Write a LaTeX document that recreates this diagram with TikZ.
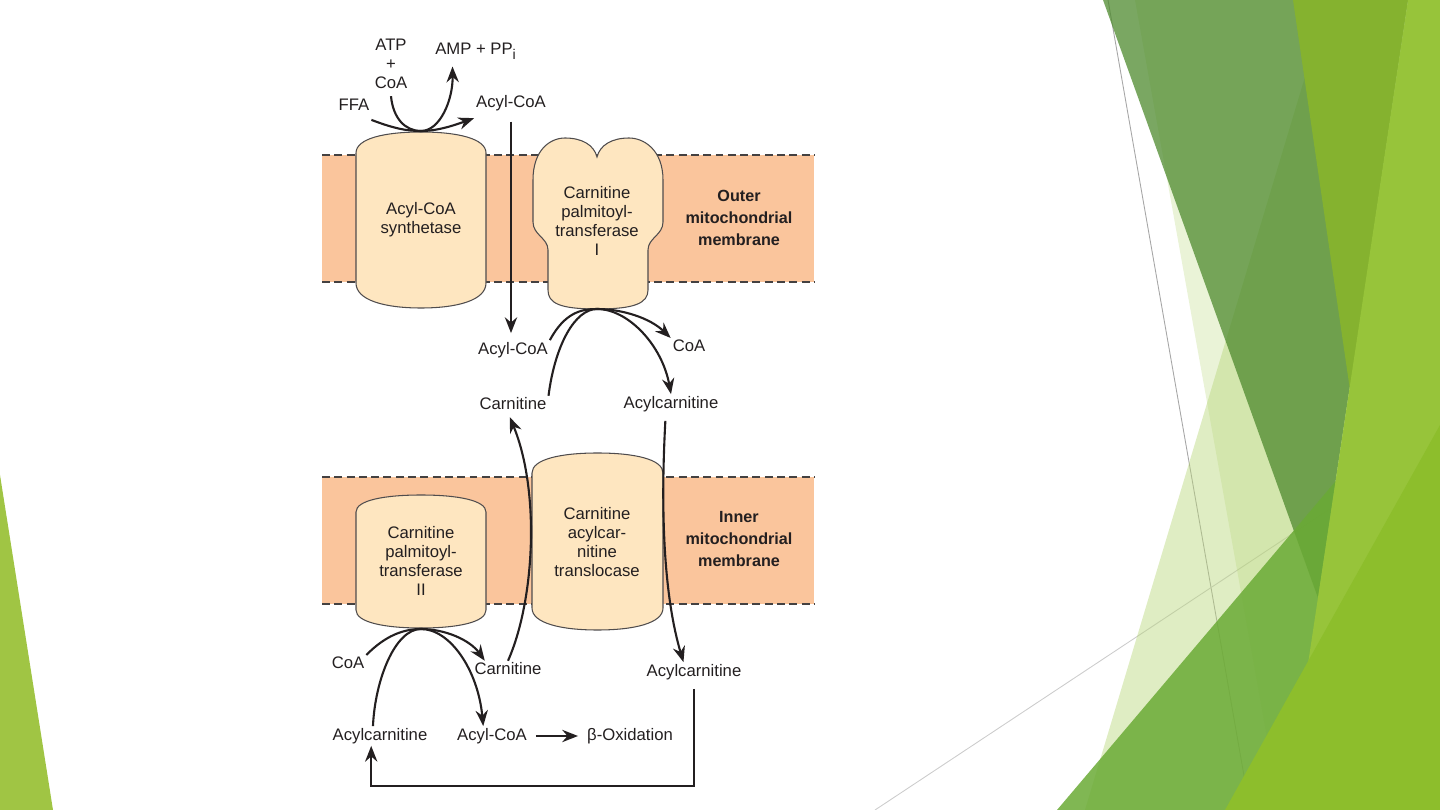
\documentclass[tikz,border=0pt]{standalone}
\usepackage{fontspec}
\setmainfont{Liberation Sans}
\usetikzlibrary{arrows.meta}

\definecolor{membr}{HTML}{FAC59C}
\definecolor{prot}{HTML}{FEE6C0}
\definecolor{ink}{HTML}{231F20}
\definecolor{leafA}{HTML}{A0C544}
\definecolor{paleG}{HTML}{B8D67A}
\definecolor{darkG}{HTML}{4E8A2E}
\definecolor{oliveG}{HTML}{85B22F}
\definecolor{midG}{HTML}{6AAA35}
\definecolor{lightG}{HTML}{97C43A}
\definecolor{brightG}{HTML}{8DBE2C}

\tikzset{
  lbl/.style={font=\fontsize{9.5}{10.8}\selectfont, text=ink, inner sep=1pt, align=center},
  protlbl/.style={lbl, font=\fontsize{9.5}{10.9}\selectfont},
  memlbl/.style={font=\fontsize{9.2}{12.4}\selectfont\bfseries, text=ink, align=center},
  rxn/.style={line width=1.2pt, draw=ink},
  arr/.style={rxn, -{Stealth[length=9pt,width=7pt,inset=3pt]}},
  protein/.style={fill=prot, draw=ink!80, line width=0.6pt},
  dashln/.style={draw=ink!85, line width=0.6pt, dash pattern=on 4.5pt off 2.5pt},
  slideln/.style={line width=0.5pt},
}

% drum shaped protein: centre x, half width, dome top, side top, side bottom, base
\newcommand{\drum}[6]{%
  \filldraw[protein] ({#1-#2},#5) -- ({#1-#2},#4)
    .. controls ({#1-#2},{#4-0.7*(#4-#3)}) and ({#1-0.55*#2},#3) .. (#1,#3)
    .. controls ({#1+0.55*#2},#3) and ({#1+#2},{#4-0.7*(#4-#3)}) .. ({#1+#2},#4)
    -- ({#1+#2},#5)
    .. controls ({#1+#2},{#5+0.7*(#6-#5)}) and ({#1+0.55*#2},#6) .. (#1,#6)
    .. controls ({#1-0.55*#2},#6) and ({#1-#2},{#5+0.7*(#6-#5)}) .. ({#1-#2},#5) -- cycle;}

\begin{document}
\begin{tikzpicture}[x=0.02cm,y=-0.02cm]
\useasboundingbox (0,0) rectangle (1440,810);

% slide decoration
\fill[leafA] (0,475) -- (0,810) -- (53,810) -- cycle;
\draw[slideln,draw=black!35] (1108,0) -- (1250,810);
\draw[slideln,draw=black!20] (875,810) -- (1440,436);
\fill[paleG,opacity=0.3] (1135,0) -- (1280,810) -- (1440,810) -- (1440,0) -- cycle;
\fill[paleG,opacity=0.45] (1328,0) -- (1085,810) -- (1440,810) -- (1440,0) -- cycle;
\fill[darkG,opacity=0.75] (1103,0) -- (1408,0) -- (1318,598) -- cycle;
\fill[oliveG] (1293,0) -- (1408,0) -- (1350,390) -- cycle;
\fill[midG,opacity=0.85] (1057,810) -- (1440,358) -- (1440,810) -- cycle;
\fill[lightG] (1408,0) -- (1440,0) -- (1440,810) -- (1286,810) -- cycle;
\fill[brightG] (1225,810) -- (1440,425) -- (1440,810) -- cycle;

% membranes
\fill[membr] (322,155) rectangle (814,282);
\fill[membr] (322,477) rectangle (814,604);
\foreach \y in {155,282,477,604}
  \draw[dashln] (322,\y) -- (814,\y);

% proteins
\drum{421}{65}{132}{153}{283}{308}
\drum{421}{65}{495}{512}{610}{628}
\drum{597.5}{65.5}{453}{473}{608}{630}
\filldraw[protein] (533,180) .. controls (533,150) and (550,138) .. (565,138)
  .. controls (582,138) and (594,145) .. (597,157)
  .. controls (600,145) and (612,138) .. (629,138)
  .. controls (644,138) and (663,150) .. (663,180) -- (663,222)
  .. controls (663,235) and (648,238) .. (648,250) -- (648,290)
  .. controls (648,303) and (635,309) .. (597,309)
  .. controls (559,309) and (548,303) .. (548,290) -- (548,250)
  .. controls (548,238) and (533,235) .. (533,222) -- cycle;

\node[protlbl] (acs) at (421,220) {Acyl-CoA\\synthetase};
\node[protlbl] (cpt1) at (597,221) {Carnitine\\palmitoyl-\\transferase\\I};
\node[protlbl] (cpt2) at (421,561) {Carnitine\\palmitoyl-\\transferase\\II};
\node[protlbl] (cact) at (597,542) {Carnitine\\acylcar-\\nitine\\translocase};
\node[memlbl] (outer) at (739,218) {Outer\\mitochondrial\\membrane};
\node[memlbl] (inner) at (739,539) {Inner\\mitochondrial\\membrane};

% metabolites
\node[lbl] (atp) at (391,64) {ATP\\+\\CoA};
\node[lbl] (ffa) at (354,105) {FFA};
\node[lbl] (amp) at (476,51) {AMP + PP\textsubscript{\fontsize{8}{8}\selectfont i}};
\node[lbl] (acyl1) at (511,103) {Acyl-CoA};
\node[lbl] (acyl2) at (513,350) {Acyl-CoA};
\node[lbl] (carn1) at (513,404) {Carnitine};
\node[lbl] (coa1) at (689,346) {CoA};
\node[lbl] (acarn1) at (671,404) {Acylcarnitine};
\node[lbl] (coa2) at (348,663) {CoA};
\node[lbl] (carn2) at (508,669) {Carnitine};
\node[lbl] (acarn2) at (694,672) {Acylcarnitine};
\node[lbl] (acarn3) at (380,736) {Acylcarnitine};
\node[lbl] (acyl3) at (492,736) {Acyl-CoA};
\node[lbl] (beta) at (630,736) {β-Oxidation};

\coordinate (acsTop) at (421,131);
\coordinate (cpt1Base) at (597,309);
\coordinate (cpt2Base) at (421,629);
\coordinate (loopBase) at (0,786);

% activation
\draw[arr] ([yshift=-4pt]ffa.south east) .. controls (395,129) and (408,131) .. (acsTop)
  .. controls (438,131) and (455,125) .. ([yshift=-3pt]acyl1.south west);
\draw[arr] ([yshift=-3pt]atp.south) .. controls (393,118) and (405,131) .. (acsTop)
  .. controls (440,131) and (453,100) .. ([xshift=11pt,yshift=-3pt]amp.south west);
\draw[arr,shorten <=5pt,shorten >=4pt] (acyl1.south) -- (acyl1.south |- acyl2.north);

% CPT I
\draw[arr] (acyl2.north east) .. controls (565,312) and (582,309) .. (cpt1Base)
  .. controls (622,309) and (650,318) .. (coa1.north west);
\draw[arr] (carn1.north east) .. controls (555,345) and (575,309) .. (cpt1Base)
  .. controls (628,309) and (662,345) .. (acarn1.north);

% translocase
\draw[arr,shorten <=4pt] ([xshift=-3pt]acarn1.south) .. controls (660,520) and (665,600) .. ([xshift=-6pt]acarn2.north);
\draw[arr,shorten >=3pt] (carn2.north) .. controls (535,600) and (540,490) .. ([xshift=-3pt]carn1.south);

% CPT II
\draw[arr] (coa2.north east) .. controls (385,636) and (403,629) .. (cpt2Base)
  .. controls (445,629) and (470,640) .. ([xshift=7pt]carn2.north west);
\draw[arr] ([xshift=-4pt]acarn3.north) .. controls (375,680) and (395,629) .. (cpt2Base)
  .. controls (450,629) and (478,670) .. ([xshift=-5pt]acyl3.north);
\draw[arr,shorten <=4pt,shorten >=4pt] (acyl3.east) -- (beta.west);
\draw[arr,shorten <=4pt] (acarn2.south) -- (acarn2.south |- loopBase) -| ([xshift=-5pt]acarn3.south);

\end{tikzpicture}
\end{document}
